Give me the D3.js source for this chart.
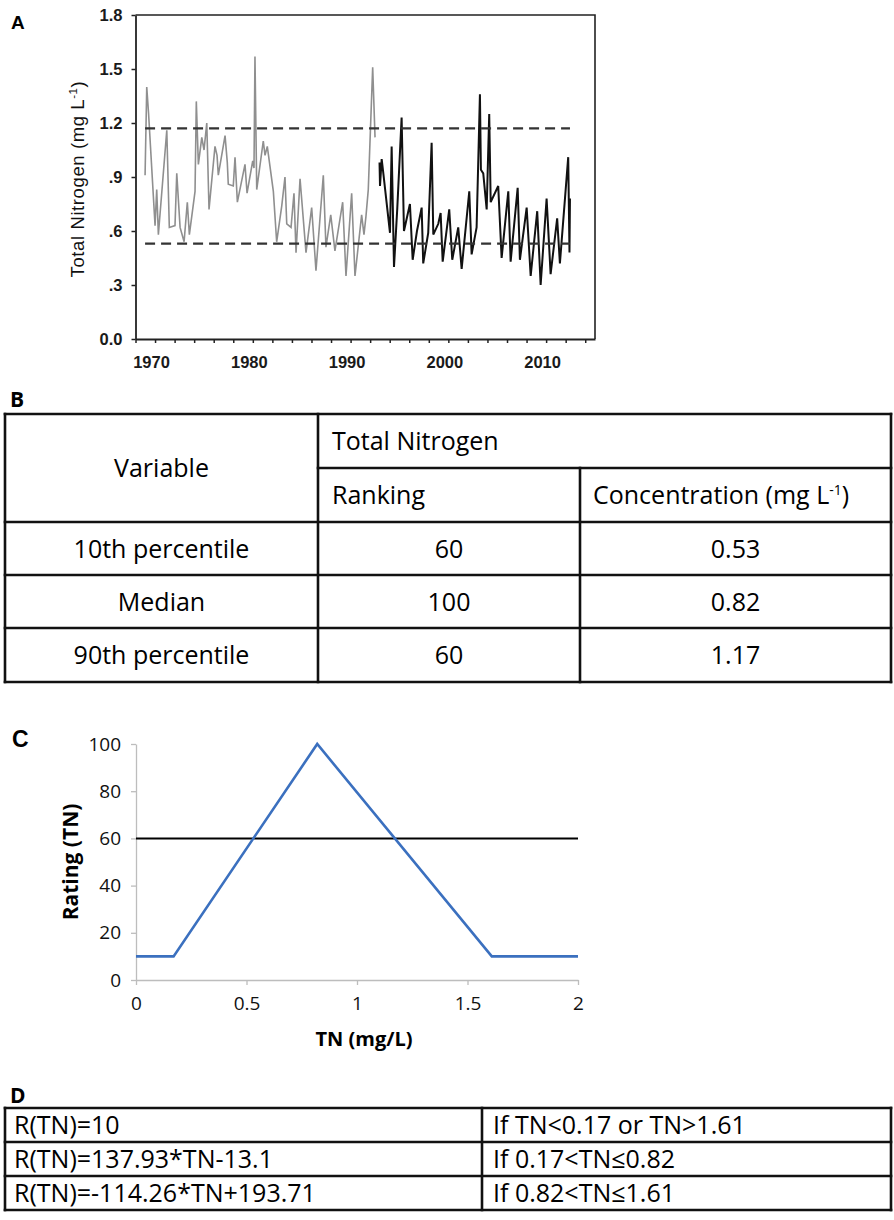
<!DOCTYPE html>
<html>
<head>
<meta charset="utf-8">
<script src="https://cdn.jsdelivr.net/npm/d3@7"></script>
<style>
  body { margin: 0; background: #fff; }
  svg { display: block; }
</style>
</head>
<body>
<div id="chart"></div>
<script>
// Panel A : total nitrogen time series
const grayYears = [1968.98, 1969.15, 1969.34, 1970.00, 1970.17, 1970.34, 1971.20, 1971.46, 1972.04, 1972.22,
  1972.56, 1972.97, 1973.30, 1973.51, 1974.09, 1974.22, 1974.43, 1974.78, 1975.01, 1975.29,
  1975.52, 1976.13, 1976.34, 1976.47, 1977.16, 1977.39, 1977.49, 1978.00, 1978.18, 1978.42,
  1979.20, 1979.41, 1979.99, 1980.12, 1980.22, 1980.40, 1981.07, 1981.25, 1981.48, 1982.10,
  1982.44, 1982.96, 1983.29, 1983.47, 1983.91, 1984.21, 1984.42, 1984.83, 1985.44, 1986.02,
  1986.46, 1987.21, 1987.48, 1987.97, 1988.40, 1989.19, 1989.53, 1990.11, 1990.45, 1991.13,
  1991.37, 1991.57, 1991.81, 1992.26, 1992.50];
const grayTN = [0.91, 1.40, 1.25, 0.63, 0.83, 0.58, 1.16, 0.62, 0.63, 0.92,
  0.62, 0.54, 0.76, 0.58, 0.82, 1.32, 0.97, 1.12, 1.05, 1.20,
  0.72, 1.07, 1.02, 0.91, 1.13, 0.98, 0.86, 0.85, 1.01, 0.76,
  0.97, 0.81, 0.99, 0.95, 1.57, 0.83, 1.10, 1.02, 1.07, 0.82,
  0.54, 0.74, 0.90, 0.64, 0.62, 0.81, 0.48, 0.89, 0.48, 0.73,
  0.38, 0.91, 0.51, 0.69, 0.49, 0.76, 0.35, 0.81, 0.35, 0.69,
  0.58, 0.68, 0.83, 1.51, 1.12];

const blackYears = [1992.96, 1993.01, 1993.18, 1993.35, 1994.03, 1994.20, 1994.44, 1994.78, 1995.22, 1995.46,
  1996.07, 1996.35, 1996.79, 1997.27, 1997.43, 1997.94, 1998.29, 1998.46, 1998.97, 1999.21,
  1999.42, 2000.09, 2000.40, 2001.01, 2001.36, 2002.14, 2002.38, 2002.89, 2003.23, 2003.33,
  2003.57, 2003.92, 2004.18, 2004.33, 2005.10, 2005.45, 2006.13, 2006.37, 2007.09, 2007.32,
  2008.01, 2008.42, 2009.09, 2009.44, 2010.05, 2010.46, 2011.13, 2011.41, 2012.26, 2012.39,
  2012.44];
const blackTN = [0.98, 0.85, 1.00, 0.92, 0.59, 1.07, 0.40, 0.73, 1.23, 0.60,
  0.75, 0.44, 0.60, 0.73, 0.42, 0.59, 1.09, 0.58, 0.64, 0.70,
  0.43, 0.72, 0.44, 0.62, 0.39, 0.82, 0.47, 0.62, 1.36, 0.94,
  0.92, 0.72, 1.25, 0.76, 0.85, 0.45, 0.82, 0.43, 0.84, 0.44,
  0.73, 0.35, 0.71, 0.30, 0.78, 0.36, 0.67, 0.42, 1.01, 0.48,
  0.78];

const percentileLines = [0.53, 1.17];
const yearTicks = d3.range(1968, 2015, 2);
const tnTicks = [0, 0.3, 0.6, 0.9, 1.2, 1.5, 1.8];
const tnTickLabels = ["0.0", ".3", ".6", ".9", "1.2", "1.5", "1.8"];

// Panel B : table
const tableVariables = ["10th percentile", "Median", "90th percentile"];
const tableRankings = ["60", "100", "60"];
const tableConcentrations = ["0.53", "0.82", "1.17"];

// Panel C : rating curve
const curveTN = [0, 0.17, 0.82, 1.61, 2];
const curveRating = [10, 10, 100, 10, 10];
const ratingThreshold = 60;
const tnAxisTicks = [0, 0.5, 1, 1.5, 2];
const ratingTicks = [0, 20, 40, 60, 80, 100];

// Panel D : formulas
const formulas = ["R(TN)=10", "R(TN)=137.93*TN-13.1", "R(TN)=-114.26*TN+193.71"];
const conditions = ["If TN<0.17 or TN>1.61", "If 0.17<TN\u22640.82", "If 0.82<TN\u22641.61"];

const W = 894, H = 1220;
const arial = "'Liberation Sans', Arial, sans-serif";
const tableFont = "'Open Sans', 'Noto Sans', sans-serif";

const svg = d3.select("#chart").append("svg")
  .attr("width", W).attr("height", H)
  .style("font-family", arial);

svg.append("rect").attr("width", W).attr("height", H).attr("fill", "#fff");

function panelLabel(txt, x, y, size, family) {
  svg.append("text").attr("x", x).attr("y", y)
    .attr("font-size", size).attr("font-weight", "bold")
    .attr("font-family", family)
    .text(txt);
}

// ---------------- Panel A ----------------
var xA = d3.scaleLinear().domain([1968, 2015]).range([135.5, 595]),
  yA = d3.scaleLinear().domain([0, 1.8]).range([339, 15]);
var gA = svg.append("g");

panelLabel("A", 11, 29, 19, arial);

// top + right frame
gA.append("path")
  .attr("d", "M" + xA.range()[0] + "," + yA(1.8) + "H" + xA.range()[1] + "V" + yA(0))
  .attr("fill", "none").attr("stroke", "#222").attr("stroke-width", 1.6);

var xAxisA = gA.append("g").attr("transform", "translate(0," + yA(0) + ")")
  .call(d3.axisBottom(xA).tickValues(yearTicks).tickSize(4).tickSizeOuter(0)
    .tickFormat(function (d) { return d % 10 === 0 ? d : ""; }));
xAxisA.selectAll("text")
  .attr("font-size", 16.5).attr("font-weight", "bold").attr("fill", "#1a1a1a")
  .attr("font-family", arial).attr("dx", -4).attr("y", 29).attr("dy", 0);

var yAxisA = gA.append("g").attr("transform", "translate(" + xA.range()[0] + ",0)")
  .call(d3.axisLeft(yA).tickValues(tnTicks).tickSize(4).tickSizeOuter(0)
    .tickFormat(function (d, i) { return tnTickLabels[i]; }));
yAxisA.selectAll("text")
  .attr("font-size", 16.5).attr("font-weight", "bold").attr("fill", "#1a1a1a")
  .attr("font-family", arial).attr("x", -13);

[xAxisA, yAxisA].forEach(function (a) {
  a.select(".domain").attr("stroke", "#222").attr("stroke-width", 1.8);
  a.selectAll(".tick line").attr("stroke", "#222").attr("stroke-width", 1.5);
});

var titleA = gA.append("text")
  .attr("transform", "translate(84," + (yA(0.9) + 2) + ") rotate(-90)")
  .attr("text-anchor", "middle")
  .attr("font-size", 18.5)
  .attr("letter-spacing", 0.6)
  .attr("fill", "#111");
titleA.append("tspan").text("Total Nitrogen (mg L");
titleA.append("tspan").attr("dy", -7).attr("font-size", 11.5).text("-1");
titleA.append("tspan").attr("dy", 7).text(")");

var lineA = d3.line().x(function (d) { return xA(d[0]); }).y(function (d) { return yA(d[1]); });

gA.append("path")
  .datum(d3.zip(grayYears, grayTN))
  .attr("d", lineA)
  .attr("fill", "none").attr("stroke", "#8f8f8f").attr("stroke-width", 1.6)
  .attr("stroke-linejoin", "miter");

gA.append("path")
  .datum(d3.zip(blackYears, blackTN))
  .attr("d", lineA)
  .attr("fill", "none").attr("stroke", "#111").attr("stroke-width", 2)
  .attr("stroke-linejoin", "miter");

var dashStart = grayYears[0], dashEnd = blackYears[blackYears.length - 1];
gA.selectAll(".pct")
  .data(percentileLines)
  .enter().append("line")
  .attr("class", "pct")
  .attr("x1", xA(dashStart)).attr("x2", xA(dashEnd))
  .attr("y1", function (d) { return yA(d); }).attr("y2", function (d) { return yA(d); })
  .attr("stroke", "#333").attr("stroke-width", 2.2).attr("stroke-dasharray", "10,6");

// ---------------- Panel B (table) ----------------
var gB = svg.append("g").attr("font-family", tableFont).attr("font-size", 25).attr("fill", "#000");
panelLabel("B", 10, 407, 21, tableFont);

var bL = 5, bR = 891, bC1 = 318, bC2 = 580;
var bRows = [414, 468, 522, 575, 628, 682];
var tableStroke = { stroke: "#111", width: 2.6 };

function hline(g, x1, x2, y) {
  g.append("line").attr("x1", x1).attr("x2", x2).attr("y1", y).attr("y2", y)
    .attr("stroke", tableStroke.stroke).attr("stroke-width", tableStroke.width).attr("stroke-linecap", "square");
}
function vline(g, x, y1, y2) {
  g.append("line").attr("x1", x).attr("x2", x).attr("y1", y1).attr("y2", y2)
    .attr("stroke", tableStroke.stroke).attr("stroke-width", tableStroke.width).attr("stroke-linecap", "square");
}

hline(gB, bL, bR, bRows[0]);
hline(gB, bC1, bR, bRows[1]);
bRows.slice(2).forEach(function (y) { hline(gB, bL, bR, y); });
vline(gB, bL, bRows[0], bRows[5]);
vline(gB, bR, bRows[0], bRows[5]);
vline(gB, bC1, bRows[0], bRows[5]);
vline(gB, bC2, bRows[1], bRows[5]);

function cellText(g, txt, x, y, anchor) {
  return g.append("text").attr("x", x).attr("y", y).attr("dy", "0.36em")
    .attr("text-anchor", anchor).text(txt);
}
cellText(gB, "Variable", (bL + bC1) / 2, (bRows[0] + bRows[2]) / 2, "middle");
cellText(gB, "Total Nitrogen", bC1 + 14, (bRows[0] + bRows[1]) / 2, "start");
cellText(gB, "Ranking", bC1 + 14, (bRows[1] + bRows[2]) / 2, "start");
var conc = gB.append("text").attr("x", bC2 + 13).attr("y", (bRows[1] + bRows[2]) / 2).attr("dy", "0.36em");
conc.append("tspan").text("Concentration (mg L");
conc.append("tspan").attr("dy", -9).attr("font-size", 14).text("-1");
conc.append("tspan").attr("dy", 9).text(")");

tableVariables.forEach(function (v, i) {
  var cy = (bRows[i + 2] + bRows[i + 3]) / 2;
  cellText(gB, v, (bL + bC1) / 2, cy, "middle");
  cellText(gB, tableRankings[i], (bC1 + bC2) / 2, cy, "middle");
  cellText(gB, tableConcentrations[i], (bC2 + bR) / 2, cy, "middle");
});

// ---------------- Panel C ----------------
var xC = d3.scaleLinear().domain([0, 2]).range([136, 578]),
  yC = d3.scaleLinear().domain([0, 100]).range([980, 744]);
var gC = svg.append("g").attr("font-family", tableFont);
panelLabel("C", 12, 747, 23, arial);

var xAxisC = gC.append("g").attr("transform", "translate(0," + yC(0) + ")")
  .call(d3.axisBottom(xC).tickValues(tnAxisTicks).tickSize(5).tickSizeOuter(0)
    .tickFormat(function (d) { return d; }));
var yAxisC = gC.append("g").attr("transform", "translate(" + xC(0) + ",0)")
  .call(d3.axisLeft(yC).tickValues(ratingTicks).tickSize(5).tickSizeOuter(0));
[xAxisC, yAxisC].forEach(function (a) {
  a.select(".domain").attr("stroke", "#bdbdbd").attr("stroke-width", 1.3);
  a.selectAll(".tick line").attr("stroke", "#bdbdbd").attr("stroke-width", 1.3);
  a.selectAll("text").attr("font-size", 19).attr("fill", "#111").attr("font-family", tableFont);
});
xAxisC.selectAll("text").attr("y", 30).attr("dy", 0);
yAxisC.selectAll("text").attr("x", -15);

gC.append("text")
  .attr("x", 364).attr("y", 1046)
  .attr("text-anchor", "middle").attr("font-size", 20).attr("font-weight", "bold")
  .text("TN (mg/L)");
gC.append("text")
  .attr("transform", "translate(78," + yC(50) + ") rotate(-90)")
  .attr("text-anchor", "middle").attr("font-size", 21).attr("font-weight", "bold")
  .text("Rating (TN)");

gC.append("line")
  .attr("x1", xC(0)).attr("x2", xC(2))
  .attr("y1", yC(ratingThreshold)).attr("y2", yC(ratingThreshold))
  .attr("stroke", "#000").attr("stroke-width", 2);

gC.append("path")
  .datum(d3.zip(curveTN, curveRating))
  .attr("d", d3.line().x(function (d) { return xC(d[0]); }).y(function (d) { return yC(d[1]); }))
  .attr("fill", "none").attr("stroke", "#3b70bf").attr("stroke-width", 2.6)
  .attr("stroke-linejoin", "miter");

// ---------------- Panel D (table) ----------------
var gD = svg.append("g").attr("font-family", tableFont).attr("font-size", 25).attr("fill", "#000");
panelLabel("D", 10, 1103, 21, tableFont);

var dL = 5, dR = 891, dC = 482;
var dRows = [1108, 1142, 1176, 1210];
dRows.forEach(function (y) { hline(gD, dL, dR, y); });
vline(gD, dL, dRows[0], dRows[3]);
vline(gD, dC, dRows[0], dRows[3]);
vline(gD, dR, dRows[0], dRows[3]);

formulas.forEach(function (f, i) {
  var cy = (dRows[i] + dRows[i + 1]) / 2;
  cellText(gD, f, dL + 9, cy, "start");
  cellText(gD, conditions[i], dC + 11, cy, "start");
});
</script>
</body>
</html>
